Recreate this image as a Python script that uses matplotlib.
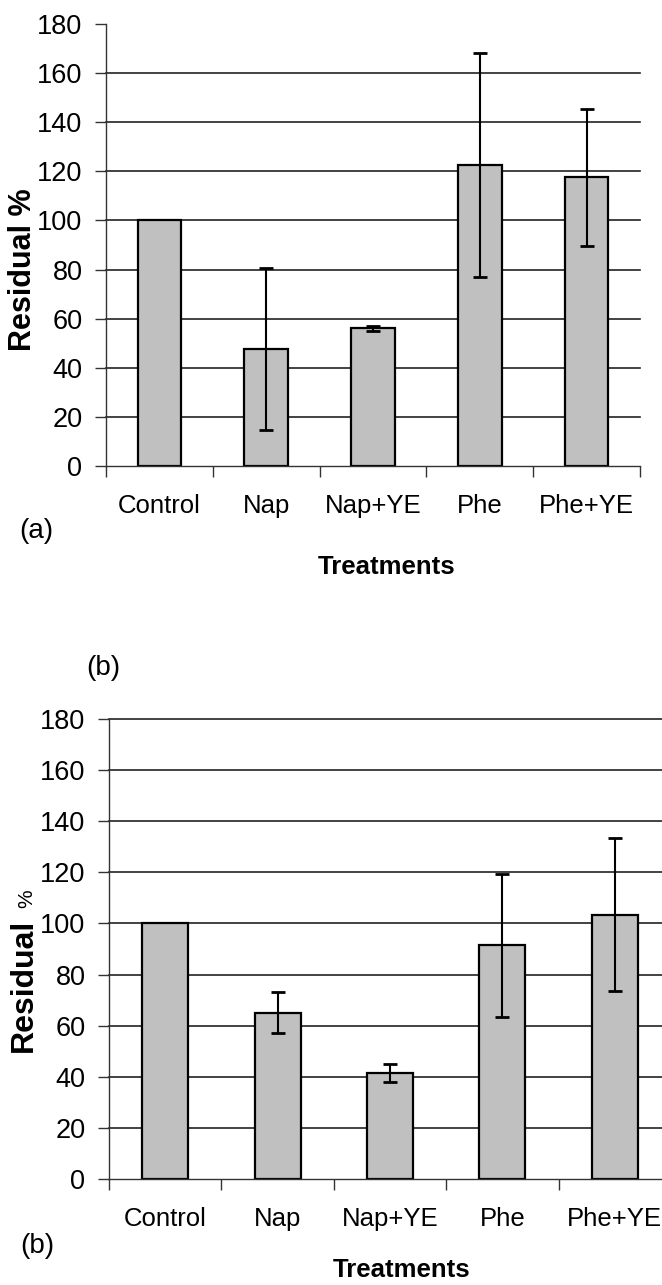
import matplotlib.pyplot as plt

plt.rcParams["font.family"] = ["Liberation Sans", "DejaVu Sans"]

# data
treatments = ["Control", "Nap", "Nap+YE", "Phe", "Phe+YE"]
residual_a = [100, 47.5, 56, 122.5, 117.5]
error_a = [0, 33, 1, 45.5, 28]
residual_b = [100, 65, 41.5, 91.5, 103.5]
error_b = [0, 8, 3.5, 28, 30]
y_ticks = [0, 20, 40, 60, 80, 100, 120, 140, 160, 180]

W, H = 662, 1285
fig = plt.figure(figsize=(W / 100, H / 100), dpi=100)


def px(x, y):
    # pixel coords (from top-left) to figure fraction
    return x / W, 1 - y / H


def panel(rect, values, errors, xmax, grid_vals):
    ax = fig.add_axes(rect)
    pos = list(range(len(values)))
    for v in grid_vals:
        ax.axhline(v, color="#222222", lw=1.2, zorder=1, clip_on=False)
    ax.bar(pos, values, width=0.41, color="#c0c0c0", edgecolor="black",
           linewidth=1.6, zorder=2)
    # no error bar on the control
    with_err = [i for i, e in enumerate(errors) if e > 0]
    ax.errorbar([pos[i] for i in with_err], [values[i] for i in with_err],
                yerr=[errors[i] for i in with_err], fmt="none",
                ecolor="black", elinewidth=1.5, capsize=5, capthick=2,
                zorder=3)
    ax.set_xlim(-0.5, xmax)
    ax.set_ylim(0, 180)
    ax.set_yticks(y_ticks)
    ax.set_xticks(pos)
    ax.set_xticklabels(treatments)
    ax.set_xticks([p - 0.5 for p in pos] + [len(pos) - 0.5], minor=True)
    ax.tick_params(axis="x", which="major", length=0, pad=20, labelsize=18.5)
    ax.tick_params(axis="x", which="minor", length=8, width=1.0,
                   color="#333333")
    ax.tick_params(axis="y", length=8, width=1.0, color="#333333", pad=9,
                   labelsize=19.5)
    for s in ["top", "right"]:
        ax.spines[s].set_visible(False)
    for s in ["left", "bottom"]:
        ax.spines[s].set_color("#333333")
        ax.spines[s].set_linewidth(1.0)
    ax.set_facecolor("none")
    return ax


# panel (a)
x0, y1 = px(106, 466)
x1, y0 = px(640, 24)
panel([x0, y1, x1 - x0, y0 - y1], residual_a, error_a, 4.42, y_ticks[1:-1])

# panel (b), plot area runs past the right edge of the image
x0, y1 = px(109, 1179)
x1, y0 = px(671, 719)
panel([x0, y1, x1 - x0, y0 - y1], residual_b, error_b, 4.5, y_ticks[1:])

# axis titles and panel letters
fig.text(*px(23, 270), "Residual %", rotation=90, fontsize=22,
         fontweight="bold", ha="center", va="center")
fig.text(*px(24, 985), "Residual", rotation=90, fontsize=23,
         fontweight="bold", ha="center", va="center")
fig.text(*px(27, 899), "%", rotation=90, fontsize=15, ha="center",
         va="center")
fig.text(*px(387, 567), "Treatments", fontsize=18.5, fontweight="bold",
         ha="center", va="center")
fig.text(*px(402, 1270), "Treatments", fontsize=18.5, fontweight="bold",
         ha="center", va="center")
fig.text(*px(36, 531), "(a)", fontsize=20, ha="center", va="center")
fig.text(*px(103, 668), "(b)", fontsize=20, ha="center", va="center")
fig.text(*px(37, 1246), "(b)", fontsize=20, ha="center", va="center")

fig.savefig("out.png", dpi=100)
